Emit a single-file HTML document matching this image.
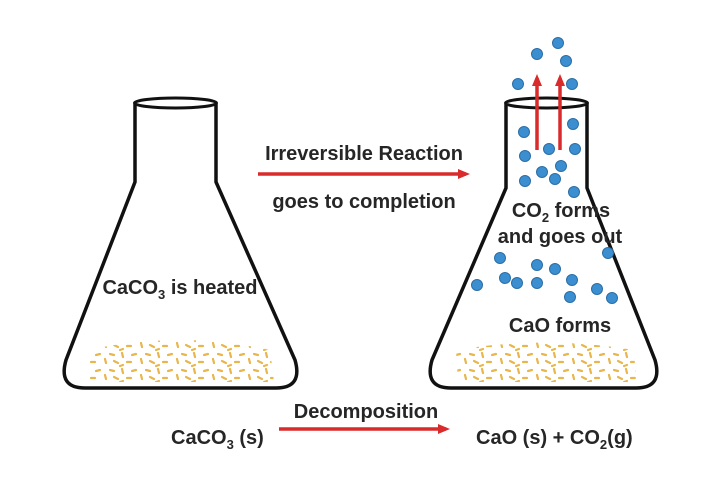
<!DOCTYPE html>
<html><head><meta charset="utf-8"><style>
html,body{margin:0;padding:0;background:#fff}
svg{display:block}
text{font-family:"Liberation Sans",sans-serif;font-weight:bold;fill:#262626}
</style></head><body>
<svg width="720" height="483" viewBox="0 0 720 483" xmlns="http://www.w3.org/2000/svg">
<defs>
<pattern id="gr" width="36" height="16" patternUnits="userSpaceOnUse">
<g stroke="#e8b64a" stroke-width="2.2" stroke-linecap="round">
<line x1="2" y1="2" x2="6" y2="3"/><line x1="14" y1="1" x2="15" y2="5"/><line x1="24" y1="3" x2="28" y2="2"/>
<line x1="33" y1="7" x2="34" y2="11"/><line x1="6" y1="9" x2="10" y2="11"/><line x1="19" y1="10" x2="23" y2="10"/>
<line x1="12" y1="14" x2="15" y2="13"/>
</g></pattern>
<marker id="ah" markerWidth="12" markerHeight="10" refX="8" refY="5" orient="auto" markerUnits="userSpaceOnUse">
<path d="M0,0 L12,5 L0,10 z" fill="#d92b2b"/></marker>
</defs>
<!-- left flask -->
<path d="M135,104 L135,182 L66,360 Q58,388 85,388 L276,388 Q303,388 295,360 L216,182 L216,104" fill="none" stroke="#111" stroke-width="3.5" stroke-linejoin="round"/>
<ellipse cx="175.5" cy="103" rx="41" ry="5" fill="#fff" stroke="#111" stroke-width="3"/>
<path d="M88,350 Q180,330 270,350 L274,382 L88,382 Z" fill="url(#gr)"/>
<text x="180" y="294" font-size="20" text-anchor="middle">CaCO<tspan font-size="13" dy="5">3</tspan><tspan dy="-5"> is heated</tspan></text>
<!-- right flask -->
<path d="M506,104 L506,188 L432,360 Q424,388 451,388 L636,388 Q663,388 655,360 L587,188 L587,104" fill="none" stroke="#111" stroke-width="3.5" stroke-linejoin="round"/>
<ellipse cx="546.5" cy="103" rx="41" ry="5" fill="#fff" stroke="#111" stroke-width="3"/>
<path d="M456,350 Q545,335 634,350 L636,382 L458,382 Z" fill="url(#gr)"/>
<g fill="#3b8fd0" stroke="#2b6ea6" stroke-width="1">
<circle cx="558" cy="43" r="5.5"/><circle cx="537" cy="54" r="5.5"/><circle cx="566" cy="61" r="5.5"/>
<circle cx="518" cy="84" r="5.5"/><circle cx="572" cy="84" r="5.5"/><circle cx="573" cy="124" r="5.5"/>
<circle cx="524" cy="132" r="5.5"/><circle cx="525" cy="156" r="5.5"/><circle cx="549" cy="149" r="5.5"/>
<circle cx="575" cy="149" r="5.5"/><circle cx="561" cy="166" r="5.5"/><circle cx="542" cy="172" r="5.5"/>
<circle cx="555" cy="179" r="5.5"/><circle cx="525" cy="181" r="5.5"/><circle cx="574" cy="192" r="5.5"/>
<circle cx="608" cy="253" r="5.5"/><circle cx="500" cy="258" r="5.5"/><circle cx="537" cy="265" r="5.5"/>
<circle cx="555" cy="269" r="5.5"/><circle cx="477" cy="285" r="5.5"/><circle cx="505" cy="278" r="5.5"/>
<circle cx="517" cy="283" r="5.5"/><circle cx="537" cy="283" r="5.5"/><circle cx="572" cy="280" r="5.5"/>
<circle cx="570" cy="297" r="5.5"/><circle cx="597" cy="289" r="5.5"/><circle cx="612" cy="298" r="5.5"/>
</g>
<line x1="537" y1="150" x2="537" y2="78" stroke="#d92b2b" stroke-width="3.5" marker-end="url(#ah)"/>
<line x1="560" y1="150" x2="560" y2="78" stroke="#d92b2b" stroke-width="3.5" marker-end="url(#ah)"/>
<text x="561" y="217" font-size="20" text-anchor="middle">CO<tspan font-size="13" dy="5">2</tspan><tspan dy="-5"> forms</tspan></text>
<text x="560" y="243" font-size="20" text-anchor="middle">and goes out</text>
<text x="560" y="332" font-size="20" text-anchor="middle">CaO forms</text>
<!-- middle -->
<text x="364" y="160" font-size="20" text-anchor="middle">Irreversible Reaction</text>
<line x1="258" y1="174" x2="466" y2="174" stroke="#d92b2b" stroke-width="3.5" marker-end="url(#ah)"/>
<text x="364" y="208" font-size="20" text-anchor="middle">goes to completion</text>
<!-- bottom -->
<text x="366" y="418" font-size="20" text-anchor="middle">Decomposition</text>
<line x1="279" y1="429" x2="446" y2="429" stroke="#d92b2b" stroke-width="3.5" marker-end="url(#ah)"/>
<text x="171" y="444" font-size="20">CaCO<tspan font-size="13" dy="5">3</tspan><tspan dy="-5"> (s)</tspan></text>
<text x="476" y="444" font-size="20">CaO (s) + CO<tspan font-size="13" dy="5">2</tspan><tspan dy="-5">(g)</tspan></text>
</svg>
</body></html>
